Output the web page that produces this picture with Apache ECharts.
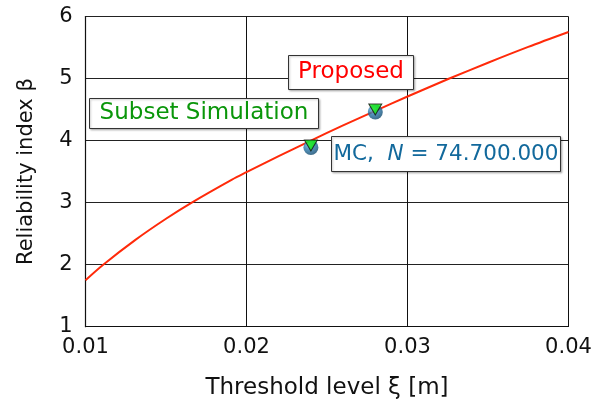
<!DOCTYPE html>
<html>
<head>
<meta charset="utf-8">
<script src="https://cdn.jsdelivr.net/npm/echarts@6/dist/echarts.min.js"></script>
<style>
  html, body { margin: 0; padding: 0; background: #fff; }
  #chart { width: 602px; height: 407px; }
</style>
</head>
<body>
<div id="chart"></div>
<script>
// Reliability index of the proposed method versus threshold level
const proposedXi   = [0.0100, 0.0111, 0.0131, 0.0150, 0.0166, 0.0191, 0.0200, 0.0220, 0.0240, 0.0260, 0.0280, 0.0300, 0.0326, 0.0350, 0.0375, 0.0400];
const proposedBeta = [1.75,   2.00,   2.40,   2.74,   3.00,   3.37,   3.49,   3.75,   4.00,   4.245,  4.48,   4.71,   5.00,   5.255,  5.51,   5.75];

// Reference solutions at two threshold levels
const mcXi     = [0.024, 0.028];
const mcBeta   = [3.89, 4.46];
const subsetXi   = [0.024, 0.028];
const subsetBeta = [3.92, 4.50];

const xTicks = [0.01, 0.02, 0.03, 0.04];
const yTicks = [1, 2, 3, 4, 5, 6];

const FONT = '"DejaVu Sans", "Noto Sans", sans-serif';
const FS = 21;
const zip = (a, b) => a.map((v, i) => [v, b[i]]);

const chart = echarts.init(document.getElementById('chart'), null, { renderer: 'canvas' });

const axisLineStyle = { color: '#111', width: 1.2 };

chart.setOption({
  animation: false,
  backgroundColor: '#fff',
  grid: { left: 85.5, right: 33.5, top: 16.5, bottom: 80.3, show: false },
  xAxis: {
    type: 'value',
    min: xTicks[0], max: xTicks[xTicks.length - 1], interval: 0.01,
    name: 'Threshold level ξ [m]',
    nameLocation: 'middle', nameGap: 50,
    nameTextStyle: { fontFamily: FONT, fontSize: 23, color: '#111' },
    axisLine: { show: true, onZero: false, lineStyle: axisLineStyle },
    axisTick: { show: false },
    axisLabel: { fontFamily: FONT, fontSize: FS, color: '#111', margin: 10,
      formatter: v => v.toFixed(2) },
    splitLine: { show: true, lineStyle: { color: '#111', width: 1 } }
  },
  yAxis: {
    type: 'value',
    min: yTicks[0], max: yTicks[yTicks.length - 1], interval: 1,
    name: 'Reliability index β',
    nameLocation: 'middle', nameGap: 48, nameRotate: 90,
    nameTextStyle: { fontFamily: FONT, fontSize: FS, color: '#111' },
    axisLine: { show: true, onZero: false, lineStyle: axisLineStyle },
    axisTick: { show: false },
    axisLabel: { fontFamily: FONT, fontSize: FS, color: '#111', margin: 13 },
    splitLine: { show: true, lineStyle: { color: '#222', width: 1 } }
  },
  series: [
    {
      name: 'Proposed', type: 'line', data: zip(proposedXi, proposedBeta),
      smooth: 0.3, showSymbol: false,
      lineStyle: { color: '#ff2a0a', width: 2 }, z: 3
    },
    {
      name: 'MC', type: 'scatter', data: zip(mcXi, mcBeta),
      symbol: 'circle', symbolSize: 15,
      itemStyle: {
        color: new echarts.graphic.RadialGradient(0.38, 0.3, 0.75, [
          { offset: 0, color: '#8cc4e6' },
          { offset: 0.45, color: '#2a7bb0' },
          { offset: 1, color: '#0c4366' }
        ])
      }, z: 4
    },
    {
      name: 'Subset Simulation', type: 'scatter', data: zip(subsetXi, subsetBeta),
      symbol: 'triangle', symbolRotate: 180, symbolSize: [13, 11],
      itemStyle: { color: '#11ee11', borderColor: '#111', borderWidth: 1 }, z: 5
    }
  ]
});

// Annotation boxes
function box(x, y, w, h, content, rich, color, size) {
  return {
    type: 'group', z: 10,
    children: [
      { type: 'rect', shape: { x: x, y: y, width: w, height: h },
        style: { fill: '#fff', stroke: '#333', lineWidth: 1,
          shadowColor: 'rgba(0,0,0,0.25)', shadowBlur: 2, shadowOffsetX: 1, shadowOffsetY: 1 } },
      { type: 'text', x: x + w / 2, y: y + h / 2,
        style: { text: content, rich: rich, fill: color, font: size + 'px ' + FONT,
          align: 'center', verticalAlign: 'middle' } }
    ]
  };
}

chart.setOption({
  graphic: [
    box(288.5, 55.5, 125, 34, 'Proposed', null, '#ff0000', 23),
    box(89.5, 98.5, 229, 30, 'Subset Simulation', null, '#0a960a', 23),
    box(331.5, 136.5, 229, 35, '{a|MC,  }{i|N}{a| = 74.700.000}', {
      a: { fill: '#12699c', font: '21.5px ' + FONT },
      i: { fill: '#12699c', font: 'italic 21.5px ' + FONT }
    }, '#12699c', 21.5)
  ]
});
</script>
</body>
</html>
